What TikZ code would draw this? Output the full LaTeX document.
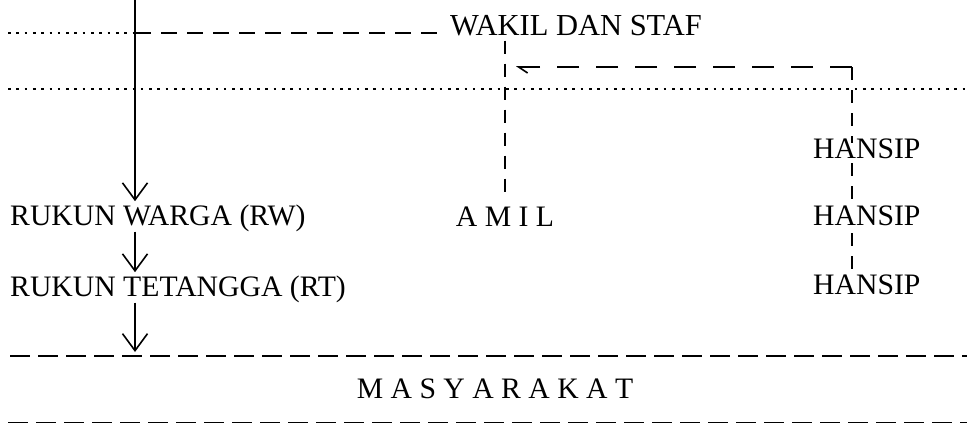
\documentclass[tikz,border=0pt]{standalone}
\usepackage{fontspec}
\setmainfont{Liberation Serif}
\usetikzlibrary{arrows.meta,calc}
\begin{document}
\begin{tikzpicture}[x=1pt,y=-1pt,
  lbl/.style={inner sep=0pt,font=\fontsize{29.7}{34}\selectfont},
  solidarrow/.style={line width=1.6pt,-{Straight Barb[length=17pt,width=25pt,line width=1.6pt]}},
  dotline/.style={line width=2.8pt,dash pattern=on 2.6pt off 5.7pt},
  dashtop/.style={line width=1.8pt,dash pattern=on 16pt off 10pt},
  dashlink/.style={line width=1.8pt,dash pattern=on 22pt off 17pt},
  dashvert/.style={line width=1.8pt,dash pattern=on 13pt off 10pt},
  dashbase/.style={line width=1.8pt,dash pattern=on 20pt off 8pt}]
\useasboundingbox (0,0) rectangle (967,424);

% labels
\node[lbl,anchor=base west,font=\fontsize{30.5}{35}\selectfont] (wakil) at (450,35) {WAKIL DAN STAF};
\node[lbl,anchor=base west] (rw) at (10,225) {RUKUN WARGA (RW)};
\node[lbl,anchor=base west] (rt) at (10,296) {RUKUN TETANGGA (RT)};
\node[lbl,anchor=base] (amil) at (505,226) {A M I L};
\node[lbl,anchor=base west] (h1) at (813,158) {HANSIP};
\node[lbl,anchor=base west] (h2) at (813,225) {HANSIP};
\node[lbl,anchor=base west] (h3) at (813,294) {HANSIP};
\node[lbl,anchor=base] (mas) at (495,398) {M A S Y A R A K A T};

% fixed points of the lines
\coordinate (top) at (135,0);
\coordinate (d1l) at (8,33);
\coordinate (d2l) at (8,89);
\coordinate (d2r) at (967,89);
\coordinate (corner) at (852,67);
\coordinate (b1l) at (10,356);
\coordinate (b1r) at (967,356);
\coordinate (b2l) at (8,422.5);
\coordinate (b2r) at (967,422.5);

% horizontal rules
\draw[dotline] (d1l) -- (top |- d1l);
\draw[dashtop] (top |- d1l) -- ([xshift=-13pt]wakil.west |- d1l);
\draw[dotline] (d2l) -- (d2r);
\draw[dashbase] (b1l) -- (b1r);
\draw[dashbase] (b2l) -- (b2r);

% main line of command
\draw[solidarrow,shorten >=3pt] (top) -- (top |- rw.north);
\draw[solidarrow,shorten >=3pt] (top |- rw.south) -- (top |- rt.north);
\draw[solidarrow,shorten >=4pt] (top |- rt.south) -- (top |- b1l);

% coordination lines
\draw[dashvert,shorten <=5pt,shorten >=13pt] (amil.north |- wakil.south) -- (amil.north);
\draw[dashlink,-{Straight Barb[harpoon,length=9pt,width=12pt,line width=1.6pt]},shorten >=11pt]
  (corner) -- (amil.north |- corner);
\draw[dashvert,shorten >=-5pt] (corner) -- (corner |- h1.north);
\draw[dashvert,shorten <=5pt] (corner |- h1.south) -- (corner |- h2.north);
\draw[dashvert,shorten <=8pt] (corner |- h2.south) -- (corner |- h3.north);
\end{tikzpicture}
\end{document}
